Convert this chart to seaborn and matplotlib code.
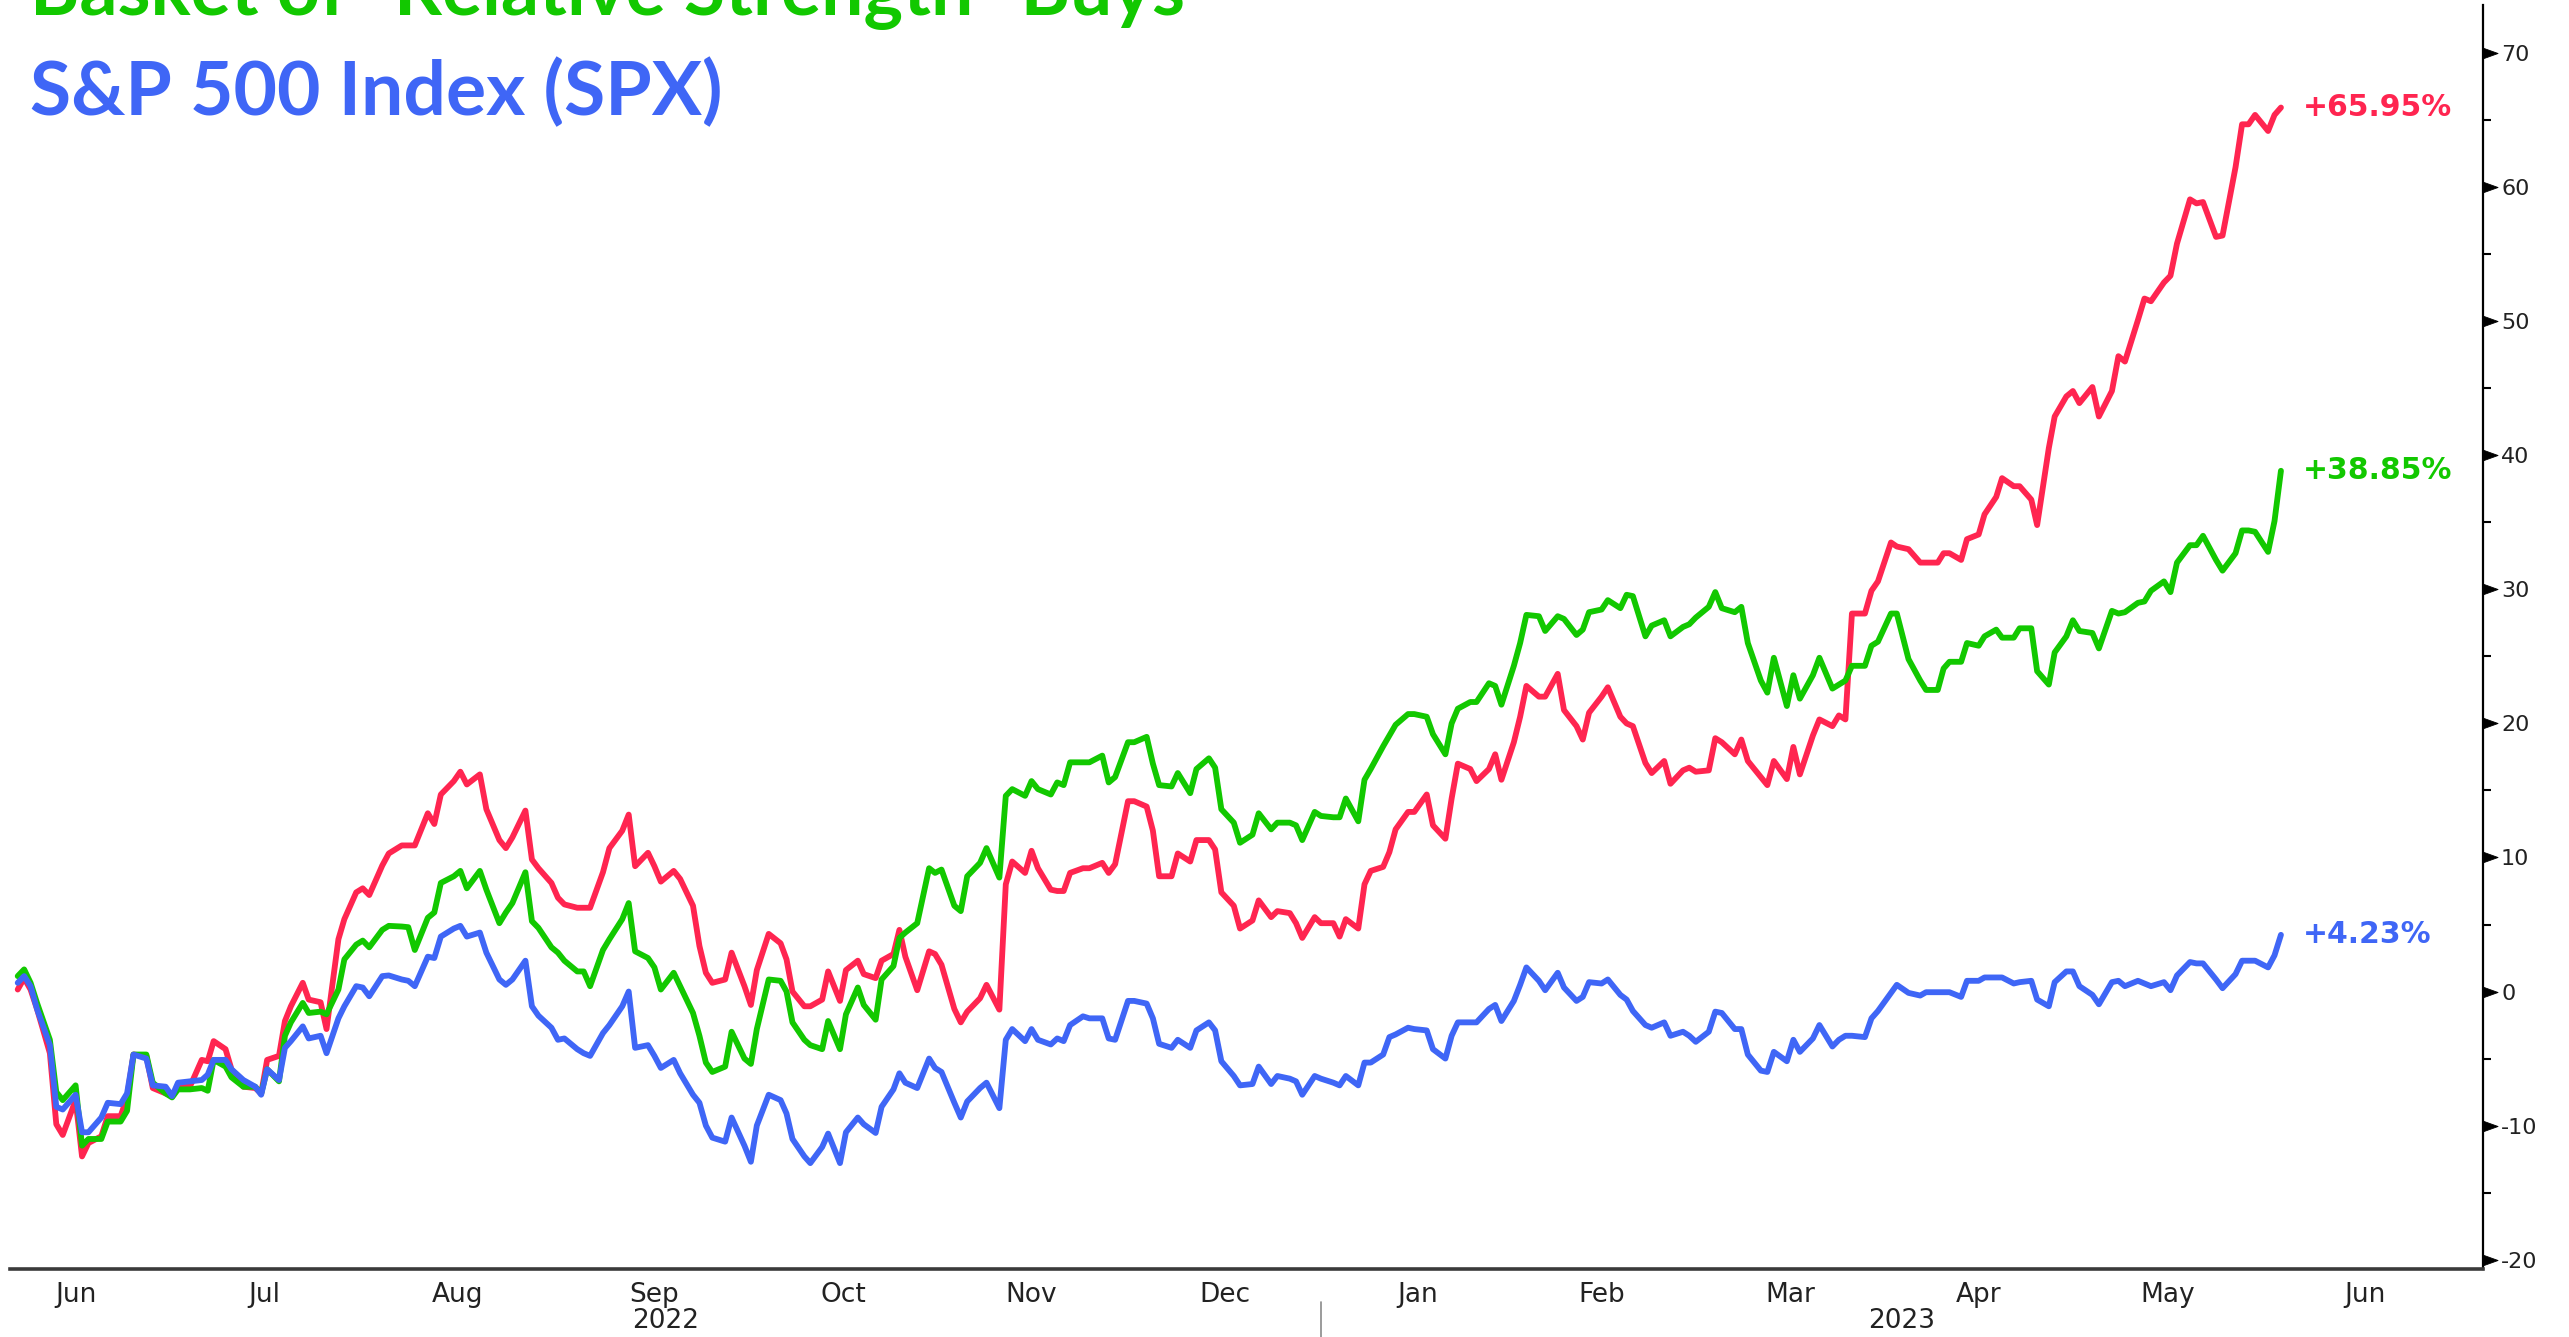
import numpy as np
import pandas as pd
import matplotlib
matplotlib.use("Agg")
import matplotlib.pyplot as plt
import matplotlib.dates as mdates
import matplotlib.transforms as mtransforms
from matplotlib.markers import MarkerStyle
from matplotlib.path import Path
from matplotlib.ticker import FixedLocator, FixedFormatter, NullFormatter
import seaborn as sns

# ---------------- data ----------------
BASE_DATE = "2022-06-01"
# observation dates, as days after BASE_DATE
day_offsets = [
    6, 7, 8, 9, 11, 12, 13, 15, 16, 17, 19, 20, 22, 23, 24, 26, 27, 29, 30, 31,
    33, 35, 36, 37, 39, 40, 42, 44, 45, 46, 48, 49, 50, 52, 53, 55, 56, 58, 59, 61,
    62, 63, 65, 66, 68,
    69, 70, 72, 73, 74, 76, 77, 78, 80, 81, 83, 84, 85, 87, 88, 89, 91, 92, 93, 95,
    96, 97, 99, 100, 102, 103, 104, 106, 107, 108, 110, 111, 113, 114, 115, 116, 118, 119, 121, 122,
    123, 125, 127,
    128, 129, 131, 132, 134, 135, 137, 138, 140, 141, 143, 144, 146, 147, 148, 150, 152, 153, 154, 156,
    157, 158, 160, 161, 163, 164, 165, 167, 168, 169, 171, 172, 173, 174, 176, 177, 179, 180, 181, 183,
    184, 186, 187,
    188, 190, 191, 193, 194, 196, 197, 198, 200, 201, 203, 204, 206, 207, 209, 210, 211, 213, 214, 216,
    217, 218, 220, 221, 222, 224, 225, 226, 228, 229, 231, 232, 234, 235, 236, 238, 239, 241, 242, 243,
    245, 246, 247,
    249, 250, 252, 253, 255, 256, 257, 259, 260, 262, 263, 264, 266, 267, 269, 270, 272, 273, 274, 276,
    277, 278, 280, 281, 282, 284, 285, 286, 288, 289, 290, 292, 293, 295, 296, 297, 298, 300, 301, 302,
    304, 305, 307, 309,
    310, 312, 313, 314, 316, 317, 319, 320, 322, 323, 325, 326, 328, 329, 331, 332, 334, 335, 336, 338,
    339, 341, 342, 343, 345, 346, 347, 349, 350, 351, 353, 354, 355, 357, 358, 360, 361, 362, 363, 365,
    366, 367,
]

red_basket = [
    0.15, 1.0, 0.15, -1.3, -4.6, -9.9, -10.7, -8.1, -12.3, -11.3, -10.8, -9.3, -9.3, -7.9, -4.7, -4.8, -7.2, -7.6, -7.8, -7.1,
    -7.1, -5.1, -5.2, -3.7, -4.3, -5.8, -7.1, -7.2, -7.6, -5.1, -4.8, -2.2, -1.1, 0.65, -0.6, -0.8, -2.8, 3.9, 5.4, 7.4,
    7.7, 7.2, 9.4, 10.3, 10.9,
    10.9, 10.9, 13.3, 12.5, 14.7, 15.7, 16.4, 15.45, 16.2, 13.6, 11.3, 10.7, 11.5, 13.5, 9.85, 9.2, 8.1, 7.0, 6.5, 6.25,
    6.25, 6.25, 8.9, 10.7, 12.0, 13.2, 9.35, 10.35, 9.35, 8.2, 9.0, 8.4, 6.4, 3.4, 1.4, 0.65, 0.9, 2.9, 0.4, -1.0,
    1.6, 4.3, 3.6,
    2.4, 0.0, -1.1, -1.1, -0.6, 1.5, -0.7, 1.6, 2.3, 1.3, 1.0, 2.3, 2.8, 4.6, 2.6, 0.1, 3.0, 2.8, 2.0, -1.3,
    -2.3, -1.5, -0.5, 0.5, -1.35, 8.0, 9.7, 8.85, 10.5, 9.2, 7.6, 7.5, 7.5, 8.85, 9.2, 9.2, 9.6, 8.85, 9.5, 14.2,
    14.2, 13.8, 12.0,
    8.6, 8.6, 10.3, 9.7, 11.3, 11.3, 10.6, 7.4, 6.4, 4.7, 5.3, 6.8, 5.55, 6.0, 5.85, 5.1, 4.0, 5.55, 5.1, 5.1,
    4.1, 5.4, 4.7, 8.0, 9.0, 9.3, 10.4, 12.1, 13.4, 13.4, 14.7, 12.4, 11.4, 14.4, 17.0, 16.6, 15.7, 16.6, 17.7, 15.8,
    18.6, 20.5, 22.8,
    22.0, 22.0, 23.7, 21.0, 19.8, 18.8, 20.8, 22.0, 22.7, 20.5, 20.0, 19.8, 17.05, 16.3, 17.2, 15.5, 16.5, 16.7, 16.4, 16.5,
    18.9, 18.6, 17.7, 18.8, 17.2, 16.0, 15.4, 17.2, 15.85, 18.25, 16.2, 19.1, 20.3, 19.8, 20.6, 20.3, 28.2, 28.2, 29.9, 30.6,
    33.5, 33.2, 33.0, 32.0,
    32.0, 32.0, 32.7, 32.7, 32.2, 33.75, 34.1, 35.6, 36.9, 38.3, 37.7, 37.7, 36.7, 34.8, 40.55, 42.9, 44.4, 44.8, 43.9, 45.1,
    42.9, 44.8, 47.4, 47.0, 50.1, 51.7, 51.5, 52.9, 53.4, 55.8, 59.1, 58.8, 58.9, 56.3, 56.4, 61.5, 64.7, 64.7, 65.4, 64.2,
    65.4, 65.95,
]

green_basket = [
    1.15, 1.65, 0.65, -0.85, -3.6, -7.5, -8.1, -7.0, -11.5, -11.0, -11.0, -9.7, -9.7, -8.9, -4.7, -4.7, -6.8, -7.6, -7.9, -7.3,
    -7.3, -7.2, -7.4, -5.1, -5.6, -6.4, -7.1, -7.1, -7.6, -5.8, -6.7, -3.3, -2.3, -0.85, -1.6, -1.5, -1.7, 0.15, 2.4, 3.5,
    3.8, 3.3, 4.6, 4.9, 4.85,
    4.8, 3.1, 5.5, 5.9, 8.1, 8.6, 9.0, 7.7, 9.0, 7.6, 5.1, 5.9, 6.6, 8.9, 5.25, 4.75, 3.3, 2.9, 2.3, 1.5,
    1.5, 0.4, 3.1, 3.9, 5.4, 6.6, 3.0, 2.5, 1.8, 0.15, 1.4, 0.4, -1.6, -3.3, -5.3, -6.0, -5.6, -3.0, -5.0, -5.4,
    -2.8, 0.9, 0.8,
    0.0, -2.3, -3.6, -4.0, -4.3, -2.2, -4.3, -1.7, 0.3, -1.0, -2.1, 0.9, 1.9, 4.0, 4.4, 5.1, 9.2, 8.85, 9.1, 6.4,
    6.0, 8.6, 9.6, 10.7, 8.5, 14.6, 15.1, 14.6, 15.7, 15.1, 14.7, 15.6, 15.4, 17.1, 17.1, 17.1, 17.6, 15.6, 16.0, 18.6,
    18.6, 19.0, 17.0,
    15.4, 15.3, 16.3, 14.8, 16.6, 17.4, 16.7, 13.6, 12.6, 11.1, 11.7, 13.3, 12.1, 12.6, 12.6, 12.4, 11.3, 13.4, 13.1, 13.0,
    13.0, 14.4, 12.7, 15.8, 16.6, 18.3, 19.1, 19.9, 20.7, 20.7, 20.5, 19.2, 17.7, 20.0, 21.1, 21.6, 21.6, 23.0, 22.8, 21.4,
    24.3, 26.0, 28.1,
    28.0, 26.9, 28.0, 27.8, 26.6, 27.0, 28.3, 28.5, 29.2, 28.6, 29.6, 29.5, 26.5, 27.3, 27.7, 26.5, 27.2, 27.4, 27.9, 28.7,
    29.8, 28.6, 28.3, 28.7, 26.0, 23.2, 22.3, 24.9, 21.3, 23.6, 21.85, 23.6, 24.9, 22.6, 22.9, 23.2, 24.3, 24.3, 25.8, 26.1,
    28.2, 28.2, 24.8, 23.2,
    22.5, 22.5, 24.1, 24.6, 24.6, 26.0, 25.8, 26.5, 27.0, 26.4, 26.4, 27.1, 27.1, 23.9, 22.9, 25.3, 26.5, 27.7, 26.9, 26.75,
    25.6, 28.4, 28.2, 28.3, 29.0, 29.1, 29.9, 30.6, 29.8, 32.0, 33.3, 33.3, 34.0, 32.2, 31.4, 32.7, 34.4, 34.4, 34.3, 32.8,
    35.1, 38.85,
]

spx = [
    0.65, 1.15, 0.4, -1.3, -4.0, -8.6, -8.8, -7.7, -10.5, -10.5, -9.4, -8.3, -8.4, -7.6, -4.7, -5.0, -7.0, -7.1, -7.8, -6.8,
    -6.7, -6.6, -6.2, -5.1, -5.1, -5.8, -6.6, -7.1, -7.7, -5.8, -6.6, -4.2, -3.7, -2.6, -3.5, -3.3, -4.6, -2.0, -1.1, 0.4,
    0.3, -0.35, 1.15, 1.2, 0.9,
    0.8, 0.4, 2.6, 2.5, 4.1, 4.7, 4.9, 4.1, 4.4, 2.9, 0.9, 0.5, 0.9, 2.3, -1.1, -1.8, -2.7, -3.6, -3.5, -4.3,
    -4.6, -4.8, -3.1, -2.5, -1.1, 0.0, -4.2, -4.0, -4.8, -5.7, -5.1, -6.1, -7.7, -8.3, -10.0, -10.9, -11.2, -9.4, -11.5, -12.7,
    -10.0, -7.7, -8.1,
    -9.1, -11.0, -12.3, -12.8, -11.6, -10.6, -12.8, -10.5, -9.4, -9.9, -10.55, -8.6, -7.3, -6.1, -6.8, -7.2, -5.0, -5.7, -6.0, -8.3,
    -9.4, -8.2, -7.2, -6.8, -8.7, -3.6, -2.8, -3.7, -2.8, -3.6, -3.95, -3.5, -3.7, -2.5, -1.85, -2.0, -2.0, -3.5, -3.6, -0.7,
    -0.7, -0.9, -2.0,
    -3.9, -4.2, -3.6, -4.2, -2.9, -2.3, -2.9, -5.2, -6.3, -7.0, -6.9, -5.6, -6.9, -6.3, -6.5, -6.7, -7.7, -6.3, -6.5, -6.8,
    -7.0, -6.3, -7.0, -5.3, -5.3, -4.7, -3.4, -3.2, -2.7, -2.8, -2.9, -4.3, -5.0, -3.3, -2.3, -2.3, -2.3, -1.3, -1.0, -2.2,
    -0.7, 0.5, 1.8,
    0.8, 0.1, 1.4, 0.3, -0.7, -0.4, 0.7, 0.6, 0.9, -0.25, -0.6, -1.45, -2.5, -2.7, -2.3, -3.3, -3.0, -3.3, -3.75, -3.0,
    -1.5, -1.6, -2.8, -2.8, -4.7, -5.9, -6.0, -4.5, -5.2, -3.6, -4.5, -3.5, -2.5, -4.1, -3.6, -3.3, -3.3, -3.4, -2.0, -1.45,
    -0.1, 0.5, -0.1, -0.3,
    -0.05, -0.05, -0.05, -0.05, -0.4, 0.8, 0.8, 1.05, 1.05, 1.05, 0.6, 0.7, 0.8, -0.6, -1.1, 0.7, 1.5, 1.5, 0.4, -0.25,
    -0.95, 0.7, 0.8, 0.4, 0.8, 0.6, 0.4, 0.7, 0.1, 1.2, 2.2, 2.1, 2.1, 0.9, 0.25, 1.3, 2.3, 2.3, 2.3, 1.8,
    2.7, 4.23,
]

series_names = ["Basket (red)", "Basket of \u201cRelative Strength\u201d Buys", "S&P 500 Index (SPX)"]
series_colors = ["#FF2550", "#12C800", "#3F66F6"]
end_labels = ["+65.95%", "+38.85%", "+4.23%"]
title_lines = ["Basket of \u201cRelative Strength\u201d Buys", "S&P 500 Index (SPX)"]
title_colors = ["#12C800", "#3F66F6"]
y_major = [-20, -10, 0, 10, 20, 30, 40, 50, 60, 70]
y_minor = [-15, -5, 5, 15, 25, 35, 45, 55, 65]
year_labels = ["2022", "2023"]

# ---------------- build frame ----------------
dates = pd.Timestamp(BASE_DATE) + pd.to_timedelta(day_offsets, unit="D")
all_series = [red_basket, green_basket, spx]
n = len(day_offsets)
df = pd.DataFrame({
    "date": np.tile(dates.values, 3),
    "value": np.concatenate([np.asarray(s, float) for s in all_series]),
    "series": np.repeat(series_names, n),
})

sns.set_theme(style="white")
plt.rcParams["font.family"] = ["DejaVu Sans"]

W, H = 2569, 1337
fig = plt.figure(figsize=(W / 100, H / 100), dpi=100)
ax = fig.add_axes([10 / W, 1 - 1269 / H, (2483 - 10) / W, (1269 - 5) / H])

sns.lineplot(data=df, x="date", y="value", hue="series", hue_order=series_names,
             palette=series_colors, estimator=None, sort=False, legend=False,
             linewidth=4.2, ax=ax)

# time axis in which every month is as wide as its number of weekdays
knots = pd.date_range("2022-05-01", "2023-09-01", freq="MS")
knot_num = mdates.date2num(knots)
knot_days = knots.values.astype("datetime64[D]")
knot_pos = np.concatenate([[0.0], np.cumsum(np.busday_count(knot_days[:-1], knot_days[1:]))]).astype(float)


def _fwd(x):
    return np.interp(np.asarray(x, float), knot_num, knot_pos)


def _inv(p):
    return np.interp(np.asarray(p, float), knot_pos, knot_num)


ax.set_xscale("function", functions=(_fwd, _inv))

x_left = pd.Timestamp(BASE_DATE) + pd.Timedelta(days=4.8)
x_right = pd.Timestamp(BASE_DATE) + pd.Timedelta(days=398.7)
ax.set_xlim(x_left, x_right)
ax.set_ylim(-20.7, 73.6)
ax.set_xlabel("")
ax.set_ylabel("")

# spines
for s in ["left", "top"]:
    ax.spines[s].set_visible(False)
ax.spines["right"].set_color("black")
ax.spines["right"].set_linewidth(1.6)
ax.spines["bottom"].set_color("#3a3a3a")
ax.spines["bottom"].set_linewidth(2.6)

# y axis on the right
ax.yaxis.tick_right()
ax.yaxis.set_major_locator(FixedLocator(y_major))
ax.yaxis.set_minor_locator(FixedLocator(y_minor))
ax.yaxis.set_major_formatter(FixedFormatter([str(v) for v in y_major]))
ax.tick_params(axis="y", which="major", direction="out", length=10, width=1.5,
               pad=3, labelsize=16, color="none", labelcolor="#222222",
               left=False, right=True)
ax.tick_params(axis="y", which="minor", direction="out", length=6, width=1.5,
               color="black", left=False, right=True)

# caret-shaped major tick marks, one per major y tick
caret = MarkerStyle(Path([(0, -0.36), (1, 0), (0, 0.36), (0, -0.36)],
                         [Path.MOVETO, Path.LINETO, Path.LINETO, Path.CLOSEPOLY]))
ytick_tr = mtransforms.blended_transform_factory(ax.transAxes, ax.transData)
ax.plot(np.ones(len(y_major)), y_major, transform=ytick_tr, linestyle="none",
        marker=caret, markersize=21, markerfacecolor="black", markeredgecolor="black",
        markeredgewidth=0.6, clip_on=False, zorder=5)

# x axis: month boundaries as minor ticks, month names centred between them
month_starts = pd.date_range("2022-06-01", "2023-07-01", freq="MS")
ms_num = mdates.date2num(month_starts)
mid_num = _inv((_fwd(ms_num[:-1]) + _fwd(ms_num[1:])) / 2)
ax.xaxis.set_major_locator(FixedLocator(mid_num))
ax.xaxis.set_major_formatter(FixedFormatter([d.strftime("%b") for d in month_starts[:-1]]))
ax.xaxis.set_minor_locator(FixedLocator(ms_num[1:]))
ax.xaxis.set_minor_formatter(NullFormatter())
ax.tick_params(axis="x", which="major", length=0, pad=9, labelsize=19, labelcolor="#222222")
ax.tick_params(axis="x", which="minor", direction="out", length=6, width=1.5, color="#333333")

# year labels (centred on each year's part of the axis) and separator
blend = mtransforms.blended_transform_factory(ax.transData, ax.transAxes)
jan1 = mdates.date2num(pd.Timestamp("2023-01-01"))
xl, xr = ax.get_xlim()
mid_2022 = _inv((_fwd(xl) + _fwd(jan1)) / 2)
mid_2023 = _inv((_fwd(jan1) + _fwd(xr)) / 2)
for xpos, lab in zip([mid_2022, mid_2023], year_labels):
    ax.text(float(xpos), -0.041, lab, transform=blend, ha="center", va="center",
            fontsize=19, color="#222222")
ax.plot([jan1, jan1], [-0.026, -0.07], transform=blend, color="#8a8a8a",
        linewidth=1.2, clip_on=False)

# end-value labels
for vals, lab, col in zip(all_series, end_labels, series_colors):
    ax.annotate(lab, xy=(dates[-1], vals[-1]), xytext=(16, 0), textcoords="offset points",
                ha="left", va="center", color=col, fontsize=21.5, fontweight="bold",
                annotation_clip=False)

# titles (top-left; the first line is cut by the top edge, as in the original)
fig.text(30 / W, 1 - 15 / H, title_lines[0], color=title_colors[0], fontsize=54,
         fontweight="bold", family=["Lato", "DejaVu Sans"], ha="left", va="baseline")
fig.text(30 / W, 1 - 115 / H, title_lines[1], color=title_colors[1], fontsize=54,
         fontweight="bold", family=["Lato", "DejaVu Sans"], ha="left", va="baseline")

fig.savefig("out.png", dpi=100)
